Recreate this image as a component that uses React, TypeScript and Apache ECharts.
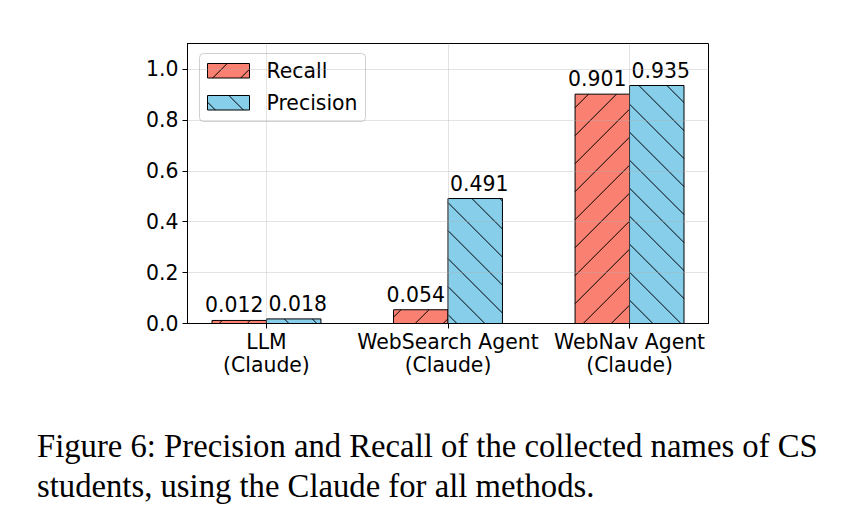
import React, { useEffect, useRef } from "react";
import * as echarts from "echarts";

const categories = ["LLM\n(Claude)", "WebSearch Agent\n(Claude)", "WebNav Agent\n(Claude)"];
const recallValues = [0.012, 0.054, 0.901];
const precisionValues = [0.018, 0.491, 0.935];
const yTicks = [0, 0.2, 0.4, 0.6, 0.8, 1.0];
const seriesNames = ["Recall", "Precision"];
const captionLines = [
  "Figure 6: Precision and Recall of the collected names of CS",
  "students, using the Claude for all methods.",
];

const RECALL_COLOR = "#FA8072";
const PRECISION_COLOR = "#87CEEB";
const FONT = "DejaVu Sans";
const FS = 20.4;
const HATCH_S = 28;

function hatchLines(x0: number, y0: number, x1: number, y1: number, dir: number, phase: number) {
  const out: any[] = [];
  if (x1 - x0 < 0.5 || y1 - y0 < 0.5) return out;
  if (dir > 0) {
    const cMin = x0 + y0, cMax = x1 + y1;
    let k = Math.ceil((cMin - phase) / HATCH_S);
    for (; phase + k * HATCH_S <= cMax; k++) {
      const c = phase + k * HATCH_S;
      const ya = Math.max(y0, c - x1), yb = Math.min(y1, c - x0);
      if (yb - ya > 0.3) out.push({ x1: c - ya, y1: ya, x2: c - yb, y2: yb });
    }
  } else {
    const cMin = y0 - x1, cMax = y1 - x0;
    let k = Math.ceil((cMin - phase) / HATCH_S);
    for (; phase + k * HATCH_S <= cMax; k++) {
      const c = phase + k * HATCH_S;
      const ya = Math.max(y0, x0 + c), yb = Math.min(y1, x1 + c);
      if (yb - ya > 0.3) out.push({ x1: ya - c, y1: ya, x2: yb - c, y2: yb });
    }
  }
  return out;
}

function hatchElements(x0: number, y0: number, x1: number, y1: number, dir: number, phase: number) {
  return hatchLines(x0, y0, x1, y1, dir, phase).map((s) => ({
    type: "line",
    shape: s,
    style: { stroke: "#000", lineWidth: 1 },
    silent: true,
  }));
}

function makeRender(offset: number, color: string, dir: number, phase: number, labelDx: number) {
  return (params: any, api: any) => {
    const xi = api.value(0);
    const v = api.value(1);
    const pTop = api.coord([xi + offset - 0.15, v]);
    const pBot = api.coord([xi + offset + 0.15, 0]);
    const x0 = pTop[0], y0 = pTop[1], x1 = pBot[0], y1 = pBot[1];
    return {
      type: "group",
      children: [
        { type: "rect", shape: { x: x0, y: y0, width: x1 - x0, height: y1 - y0 }, style: { fill: color } },
        ...hatchElements(x0, y0, x1, y1, dir, phase),
        { type: "rect", shape: { x: x0, y: y0, width: x1 - x0, height: y1 - y0 }, style: { fill: "none", stroke: "#000", lineWidth: 1 } },
        {
          type: "text",
          style: {
            text: v.toFixed(3),
            x: (x0 + x1) / 2 + labelDx,
            y: y0 - 15,
            align: "center",
            verticalAlign: "middle",
            fill: "#000",
            font: `${FS}px "${FONT}"`,
          },
        },
      ],
    };
  };
}

export default function App() {
  const ref = useRef<HTMLDivElement>(null);
  useEffect(() => {
    const chart = echarts.init(ref.current!, null, { renderer: "svg" });
    const legendItems: any[] = [
      {
        type: "rect",
        shape: { x: 199.5, y: 53.5, width: 166, height: 68, r: 4 },
        style: { fill: "rgba(255,255,255,0.8)", stroke: "#d0d0d0", lineWidth: 1 },
      },
    ];
    const legendRows = [
      { name: seriesNames[0], color: RECALL_COLOR, dir: 1, phase: 10.7, y: 63.5 },
      { name: seriesNames[1], color: PRECISION_COLOR, dir: -1, phase: 6.6, y: 95.5 },
    ];
    legendRows.forEach((r) => {
      legendItems.push({ type: "rect", shape: { x: 207.5, y: r.y, width: 42, height: 14.5 }, style: { fill: r.color } });
      hatchElements(207.5, r.y, 249.5, r.y + 14.5, r.dir, r.phase).forEach((e) => legendItems.push(e));
      legendItems.push({ type: "rect", shape: { x: 207.5, y: r.y, width: 42, height: 14.5 }, style: { fill: "none", stroke: "#000", lineWidth: 1 } });
      legendItems.push({
        type: "text",
        style: { text: r.name, x: 266.5, y: r.y + 7.5, verticalAlign: "middle", align: "left", fill: "#000", font: `${FS}px "${FONT}"` },
      });
    });
    const captionItems = captionLines.map((t, i) => ({
      type: "text",
      style: {
        text: t,
        x: 37,
        y: 446.2 + i * 39.7,
        align: "left",
        verticalAlign: "middle",
        fill: "#000",
        font: `32.7px "Liberation Serif"`,
      },
    }));

    chart.setOption({
      animation: false,
      backgroundColor: "#fff",
      grid: {
        left: 187.5,
        top: 43.5,
        width: 521,
        height: 280,
        show: true,
        borderColor: "#000",
        borderWidth: 1,
        backgroundColor: "transparent",
      },
      xAxis: {
        type: "value",
        min: -0.435,
        max: 2.435,
        z: 3,
        axisLine: { show: true, onZero: false, lineStyle: { color: "#000", width: 1 } },
        axisTick: { show: true, length: 5, customValues: [0, 1, 2], lineStyle: { color: "#000" } },
        axisLabel: {
          customValues: [0, 1, 2],
          formatter: (v: number) => categories[Math.round(v)] ?? "",
          color: "#000",
          fontFamily: FONT,
          fontSize: FS,
          lineHeight: 23,
          margin: 7,
          align: "center",
        },
        splitLine: { show: true, lineStyle: { color: "rgba(176,176,176,0.35)", width: 1 } },
      },
      yAxis: {
        type: "value",
        min: 0,
        max: 1.1,
        z: 3,
        axisLine: { show: true, onZero: false, lineStyle: { color: "#000", width: 1 } },
        axisTick: { show: true, length: 5, customValues: yTicks, lineStyle: { color: "#000" } },
        axisLabel: {
          customValues: yTicks,
          formatter: (v: number) => v.toFixed(1),
          color: "#000",
          fontFamily: FONT,
          fontSize: FS,
          margin: 9,
        },
        splitLine: { show: true, lineStyle: { color: "rgba(176,176,176,0.35)", width: 1 } },
      },
      series: [
        {
          type: "custom",
          name: seriesNames[0],
          z: 1,
          data: recallValues.map((v, i) => [i, v]),
          encode: { x: 0, y: 1 },
          renderItem: makeRender(-0.15, RECALL_COLOR, 1, 10.7, -5),
        },
        {
          type: "custom",
          name: seriesNames[1],
          z: 1,
          data: precisionValues.map((v, i) => [i, v]),
          encode: { x: 0, y: 1 },
          renderItem: makeRender(0.15, PRECISION_COLOR, -1, 6.6, 4),
        },
      ],
      graphic: [
        { type: "group", z: 10, children: legendItems },
        { type: "group", z: 10, children: captionItems },
      ],
    });
    return () => chart.dispose();
  }, []);
  return <div ref={ref} style={{ position: "absolute", left: 0, top: 0, width: 849, height: 526 }} />;
}
